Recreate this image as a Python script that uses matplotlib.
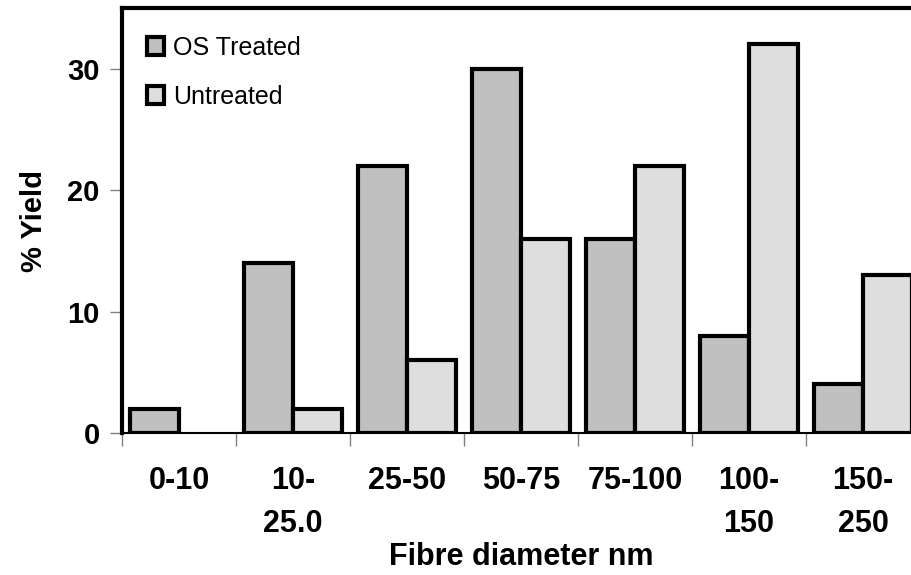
import matplotlib
matplotlib.use("Agg")
import matplotlib.pyplot as plt
from matplotlib.patches import Patch
import numpy as np

plt.rcParams['font.family'] = ['Liberation Sans', 'DejaVu Sans']

categories = ["0-10", "10-\n25.0", "25-50", "50-75", "75-100", "100-\n150", "150-\n250"]
os_treated = [2, 14, 22, 30, 16, 8, 4]
untreated = [0, 2, 6, 16, 22, 32, 13]
y_ticks = [0, 10, 20, 30]

c_os = "#c0c0c0"
c_un = "#dedede"

fig = plt.figure(figsize=(9.12, 5.75), dpi=100)
ax = fig.add_axes([122 / 912, 142 / 575, 798 / 912, 425 / 575])

x = np.arange(len(categories))
w = 0.43
# no outline for empty bars
lw_os = [3 if v > 0 else 0 for v in os_treated]
lw_un = [3 if v > 0 else 0 for v in untreated]
ax.bar(x - w / 2, os_treated, w, color=c_os, edgecolor="black", linewidth=lw_os, zorder=3)
ax.bar(x + w / 2, untreated, w, color=c_un, edgecolor="black", linewidth=lw_un, zorder=3)

ax.set_xlim(-0.5, len(categories) - 0.5)
ax.set_ylim(0, 35)
ax.set_yticks(y_ticks)
ax.set_xticks(np.arange(len(categories) + 1) - 0.5)
ax.set_xticklabels([])
ax.set_xticks(x, minor=True)
ax.set_xticklabels(categories, minor=True, fontsize=22, fontweight="bold", va="top",
                   linespacing=1.55)
ax.tick_params(axis="x", which="minor", length=0, pad=24)
ax.tick_params(axis="x", which="major", length=9, width=1, color="#808080", direction="out")
ax.tick_params(axis="y", length=9, width=1, color="#808080", direction="out",
               labelsize=21, pad=7)
for lbl in ax.get_yticklabels():
    lbl.set_fontweight("bold")

ax.spines["left"].set_linewidth(3)
ax.spines["top"].set_linewidth(3)
ax.spines["right"].set_linewidth(3)
ax.spines["bottom"].set_linewidth(1.5)

ax.set_ylabel("% Yield", fontsize=21, fontweight="bold", labelpad=14)
ax.set_xlabel("Fibre diameter nm", fontsize=22, fontweight="bold", va="center")
ax.xaxis.set_label_coords(0.5, -0.292)

handles = [Patch(facecolor=c_os, edgecolor="black", linewidth=3),
           Patch(facecolor=c_un, edgecolor="black", linewidth=3)]
ax.legend(handles, ["OS Treated", "Untreated"], loc="upper left", frameon=False,
          fontsize=18, handlelength=0.7, handleheight=0.7, handletextpad=0.35,
          labelspacing=1.0, borderpad=0, borderaxespad=0, bbox_to_anchor=(0.031, 0.935))

fig.savefig("out.png", dpi=100)
